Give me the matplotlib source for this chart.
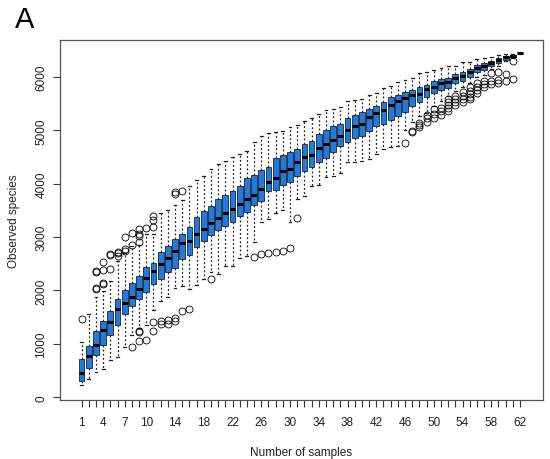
import numpy as np
import matplotlib
matplotlib.use("Agg")
import matplotlib.pyplot as plt

plt.rcParams['font.family'] = ['Liberation Sans', 'DejaVu Sans']

# box statistics, one entry per number of samples (1..62)
q1 = [309, 549, 784, 988, 1173, 1358, 1556, 1710, 1833, 1967,
      2130, 2216, 2341, 2416, 2590, 2671, 2809, 2922, 3046, 3134,
      3215, 3278, 3402, 3477, 3602, 3671, 3870, 3883, 3982, 4038,
      4139, 4245, 4308, 4401, 4476, 4589, 4701, 4776, 4851, 4900,
      4994, 5076, 5119, 5194, 5263, 5350, 5462, 5537, 5619, 5694,
      5756, 5788, 5887, 5930, 6005, 6087, 6130, 6199, 6262, 6324,
      6368, 6449]
med = [457, 765, 981, 1259, 1414, 1648, 1759, 1877, 2037, 2235,
       2365, 2502, 2609, 2734, 2883, 2934, 3059, 3153, 3259, 3358,
       3452, 3533, 3621, 3714, 3789, 3902, 4027, 4107, 4233, 4276,
       4401, 4495, 4544, 4664, 4744, 4819, 4900, 5012, 5076, 5125,
       5244, 5319, 5381, 5475, 5544, 5600, 5662, 5681, 5774, 5818,
       5881, 5911, 5975, 6024, 6087, 6168, 6211, 6262, 6324, 6368,
       6399, 6449]
q3 = [722, 957, 1235, 1432, 1617, 1846, 2000, 2142, 2265, 2435,
      2520, 2727, 2840, 2959, 3059, 3184, 3384, 3496, 3589, 3714,
      3795, 3870, 3964, 4102, 4164, 4250, 4320, 4482, 4538, 4589,
      4651, 4744, 4806, 4932, 5012, 5076, 5119, 5226, 5288, 5338,
      5400, 5462, 5525, 5619, 5662, 5724, 5761, 5806, 5855, 5918,
      5962, 5975, 6056, 6099, 6149, 6224, 6256, 6305, 6350, 6387,
      6405, 6449]
whislo = [228, 340, 475, 537, 704, 753, 938, 1167, 1290, 1358,
          1630, 1798, 1873, 2042, 2090, 2029, 2110, 2216, 2341, 2309,
          2465, 2465, 2609, 2652, 2900, 3280, 3340, 3452, 3514, 3289,
          3714, 3776, 3964, 3982, 4121, 4139, 4201, 4413, 4413, 4432,
          4463, 4557, 4651, 4683, 4700, 5012, 5150, 5275, 5330, 5450,
          5556, 5649, 5743, 5806, 5887, 5993, 6043, 6149, 6211, 6290,
          6350, 6449]
whishi = [1043, 1556, 1877, 1988, 2185, 2543, 2698, 2833, 2860, 3050,
          3060, 3452, 3508, 3600, 3700, 3950, 4075, 4150, 4280, 4370,
          4420, 4500, 4550, 4620, 4780, 4900, 4950, 4963, 4994, 5057,
          5100, 5181, 5231, 5306, 5387, 5400, 5432, 5556, 5569, 5580,
          5662, 5694, 5788, 5836, 5911, 5949, 5975, 6069, 6087, 6130,
          6162, 6211, 6211, 6275, 6275, 6336, 6355, 6380, 6405, 6430,
          6430, 6449]
outliers = {
    1: [1463],
    3: [2031, 2045, 2340, 2370],
    4: [2123, 2142, 2377, 2531],
    5: [2407, 2667, 2679],
    6: [2654, 2698, 2728],
    7: [2741, 2778, 2994],
    8: [938, 2852, 3080],
    9: [1049, 1216, 1250, 2903, 3013, 3059, 3153],
    10: [1074, 3171],
    11: [1247, 1405, 3184, 3326, 3390],
    12: [1370, 1432],
    13: [1380, 1440],
    14: [1420, 1494, 3808, 3840],
    15: [1608, 3870],
    16: [1660],
    19: [2210],
    25: [2622],
    26: [2680],
    27: [2700],
    28: [2720],
    29: [2745],
    30: [2790],
    31: [3358],
    46: [4757],
    47: [4963, 4990],
    48: [5057, 5100, 5140],
    49: [5163, 5226, 5280],
    50: [5231, 5306, 5400],
    51: [5294, 5356, 5420],
    52: [5360, 5420, 5470, 5520, 5580],
    53: [5470, 5530, 5590, 5650],
    54: [5520, 5590, 5650, 5710],
    55: [5590, 5620, 5680, 5740, 5806],
    56: [5700, 5760, 5818, 5880],
    57: [5806, 5868, 5931],
    58: [5868, 5931, 6069],
    59: [5881, 5943, 6087],
    60: [5931, 6050],
    61: [5962, 6305],
}
shown_labels = [1, 4, 7, 10, 14, 18, 22, 26, 30, 34, 38, 42, 46, 50, 54, 58, 62]

n = len(med)
positions = np.arange(1, n + 1)
stats = []
for i in range(n):
    stats.append(dict(q1=q1[i], med=med[i], q3=q3[i],
                      whislo=whislo[i], whishi=whishi[i],
                      fliers=outliers.get(i + 1, [])))

fig = plt.figure(figsize=(5.5, 4.6), dpi=100)
ax = fig.add_axes([60 / 550, 1 - 400.7 / 460, 483 / 550, 359.7 / 460])

ax.bxp(stats, positions=positions, widths=0.8, patch_artist=True,
       boxprops=dict(facecolor='#1f7be2', edgecolor='#222222', linewidth=0.6),
       medianprops=dict(color='black', linewidth=2.2),
       whiskerprops=dict(color='#222222', linewidth=0.9, linestyle=(0, (1.5, 1.8))),
       capprops=dict(color='#222222', linewidth=0.9),
       flierprops=dict(marker='o', markerfacecolor='none', markeredgecolor='black',
                       markersize=5, markeredgewidth=0.6))

ax.set_xlim(-2.0, 65.2)
ax.set_ylim(-45, 6690)

ax.set_xticks(positions)
ax.set_xticklabels([str(p) if p in shown_labels else '' for p in positions])
ax.set_yticks([0, 1000, 2000, 3000, 4000, 5000, 6000])
ax.set_yticklabels(['0', '1000', '2000', '3000', '4000', '5000', '6000'],
                   rotation=90, va='center')
ax.tick_params(axis='both', direction='out', length=5, width=0.8,
               color='#333333', labelsize=8.5, labelcolor='#222222')
ax.tick_params(axis='x', pad=7)
ax.tick_params(axis='y', pad=4)
for s in ax.spines.values():
    s.set_color('#555555')
    s.set_linewidth(0.9)

ax.set_xlabel('Number of samples', fontsize=8.5, color='#222222', labelpad=13)
ax.set_ylabel('Observed species', fontsize=8.5, color='#222222', labelpad=11)

fig.text(15 / 550, 1 - 28 / 460, 'A', fontsize=21, color='black')

fig.savefig('out.png', dpi=100)
